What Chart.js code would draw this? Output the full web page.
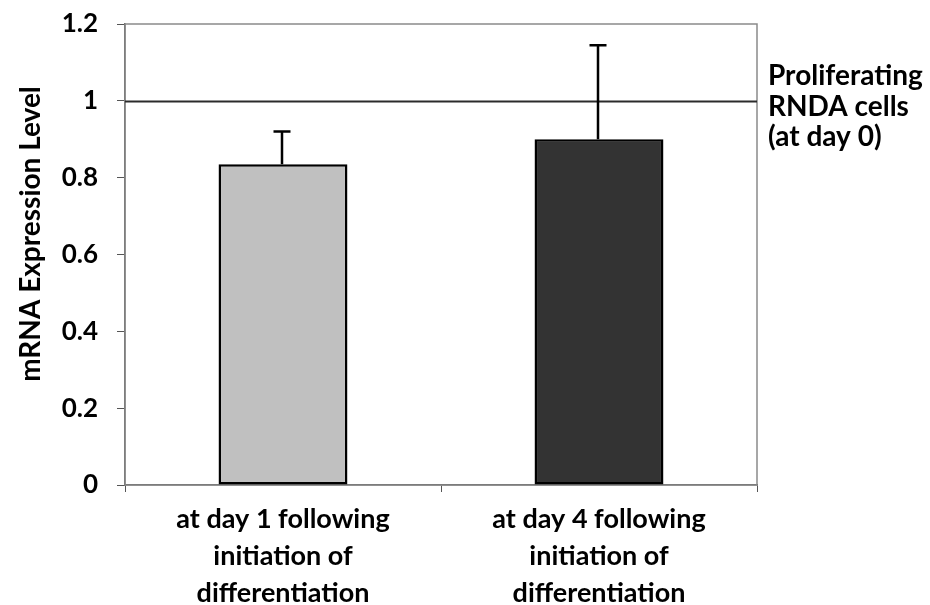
<!DOCTYPE html>
<html>
<head>
<meta charset="utf-8">
<script src="https://cdn.jsdelivr.net/npm/chart.js@4"></script>
<style>
  html, body { margin: 0; padding: 0; background: #fff; }
  #wrap { width: 930px; height: 605px; position: relative; }
</style>
</head>
<body>
<div id="wrap"><canvas id="expressionChart"></canvas></div>
<script>
const categories = [
  ['at day 1 following', 'initiation of', 'differentiation'],
  ['at day 4 following', 'initiation of', 'differentiation']
];
const expression = [0.835, 0.9];
const errorUp = [0.085, 0.245];
const barColors = ['#c0c0c0', '#333333'];
const yTicks = [0, 0.2, 0.4, 0.6, 0.8, 1, 1.2];
const baseline = 1;
const baselineLabel = ['Proliferating', 'RNDA cells', '(at day 0)'];
const yTitle = 'mRNA Expression Level';

const FONT = 'Lato, "Open Sans", sans-serif';

// frame, day-0 reference line, error bars and the loose text
const overlay = {
  id: 'overlay',
  beforeDatasetsDraw(chart) {
    const { ctx, chartArea: a, scales: { y } } = chart;
    ctx.save();
    ctx.strokeStyle = '#8a8a8a';
    ctx.lineWidth = 1.5;
    ctx.strokeRect(a.left, a.top, a.right - a.left, a.bottom - a.top);

    const yy = Math.round(y.getPixelForValue(baseline)) + 0.5;
    ctx.strokeStyle = '#2b2b2b';
    ctx.lineWidth = 2;
    ctx.beginPath();
    ctx.moveTo(a.left, yy);
    ctx.lineTo(a.right, yy);
    ctx.stroke();
    ctx.restore();
  },
  afterDatasetsDraw(chart) {
    const { ctx, scales: { y } } = chart;
    const bars = chart.getDatasetMeta(0).data;
    ctx.save();
    ctx.strokeStyle = '#000';
    ctx.lineWidth = 2.5;
    bars.forEach((bar, i) => {
      const x = Math.round(bar.x) - 1;
      const top = y.getPixelForValue(expression[i] + errorUp[i]);
      ctx.beginPath();
      ctx.moveTo(x, bar.y);
      ctx.lineTo(x, top);
      ctx.moveTo(x - 8.5, top);
      ctx.lineTo(x + 8.5, top);
      ctx.stroke();
    });
    ctx.restore();
  },
  afterDraw(chart) {
    const { ctx, chartArea: a } = chart;
    ctx.save();
    ctx.fillStyle = '#000';
    ctx.font = 'bold 28px ' + FONT;

    ctx.textAlign = 'left';
    ctx.textBaseline = 'alphabetic';
    baselineLabel.forEach((line, i) => {
      ctx.fillText(line, a.right + 11, 85 + i * 30.5);
    });

    ctx.translate(31, 234);
    ctx.rotate(-Math.PI / 2);
    ctx.textAlign = 'center';
    ctx.textBaseline = 'middle';
    ctx.fillText(yTitle, 0, 0);
    ctx.restore();
  }
};

new Chart(document.getElementById('expressionChart'), {
  type: 'bar',
  data: {
    labels: categories,
    datasets: [{
      data: expression,
      backgroundColor: barColors,
      borderColor: '#000',
      borderWidth: 2.5,
      borderSkipped: false,
      categoryPercentage: 1,
      barPercentage: 0.408
    }]
  },
  options: {
    responsive: true,
    maintainAspectRatio: false,
    animation: false,
    layout: { padding: { left: 0, right: 173, top: 24, bottom: 0 } },
    plugins: {
      legend: { display: false },
      tooltip: { enabled: false }
    },
    scales: {
      x: {
        afterFit: s => { s.height = 120; s.paddingLeft = 0; s.paddingRight = 0; },
        grid: {
          offset: true,
          drawOnChartArea: false,
          drawTicks: true,
          tickLength: 7,
          color: '#555'
        },
        border: { color: '#555', width: 1.5 },
        ticks: {
          color: '#000',
          padding: 9,
          maxRotation: 0,
          font: { family: FONT, size: 27, weight: 'bold', lineHeight: 1.37 }
        }
      },
      y: {
        min: 0,
        max: 1.2,
        afterFit: s => { s.width = 125; s.paddingTop = 0; s.paddingBottom = 0; },
        afterBuildTicks: s => { s.ticks = yTicks.map(v => ({ value: v })); },
        grid: {
          drawOnChartArea: false,
          drawTicks: true,
          tickLength: 8,
          color: '#555'
        },
        border: { color: '#555', width: 1.5 },
        ticks: {
          color: '#000',
          padding: 19,
          callback: v => String(v),
          font: { family: FONT, size: 26, weight: 'bold' }
        }
      }
    }
  },
  plugins: [overlay]
});
</script>
</body>
</html>
